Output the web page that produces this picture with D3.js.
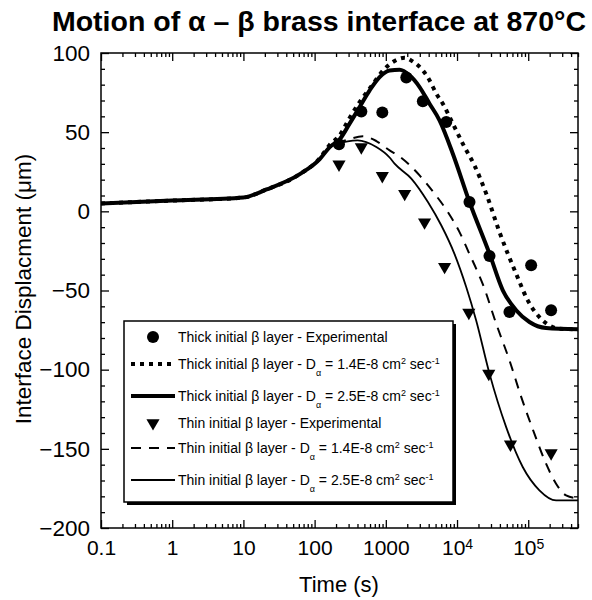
<!DOCTYPE html>
<html>
<head>
<meta charset="utf-8">
<script src="https://cdn.jsdelivr.net/npm/d3@7"></script>
<style>
  body { margin: 0; background: #fff; }
  svg text { font-family: "Liberation Sans", Arial, sans-serif; fill: #000; }
</style>
</head>
<body>
<div id="chart"></div>
<script>
// measured data (time in s, displacement in um)
var thickExpTime = [220, 453, 893, 1940, 3310, 7060, 14960, 28570, 54500, 109900, 209600];
var thickExpDisp = [42.3, 63, 62.5, 84.5, 69.5, 56.4, 5.9, -28.2, -63.6, -34.1, -62.5];
var thinExpTime = [220, 453, 893, 1840, 3500, 6690, 14650, 27900, 56300, 209600];
var thinExpDisp = [29.7, 40.6, 22.4, 11.1, -6.9, -35, -64, -102.5, -147.2, -152.7];

// model curves
var thickSlowTime = [0.1, 1, 10, 21.1, 62, 118, 163, 225, 310, 429, 627, 962, 1327, 1836, 2455, 3313, 4110, 5105, 6320, 8730, 12740, 17590, 25700, 39450, 67600, 98400, 159600, 273500, 500000];
var thickSlowDisp = [5, 6.8, 8.7, 13.8, 23.5, 33.5, 42, 48, 59, 69, 79, 90, 95, 97, 94.3, 89, 82.8, 74.4, 68, 55.4, 40.6, 29, 11.2, -13.1, -39.4, -56.2, -68.9, -74.1, -74.5];
var thickFastTime = [0.1, 1, 10, 21.1, 62, 118, 163, 225, 310, 429, 593, 818, 1130, 1563, 2160, 2980, 4110, 5680, 8730, 14960, 28570, 43950, 67600, 104000, 178000, 500000];
var thickFastDisp = [5, 6.8, 8.7, 13.8, 23.5, 33, 40.6, 45.5, 55.4, 65.9, 76.4, 84.8, 89, 89.5, 85.9, 78.5, 68, 57.5, 36.4, 5.9, -26.7, -49.9, -62.5, -69.9, -73.7, -74.5];
var thinSlowTime = [0.1, 1, 10, 21.1, 62, 118, 163, 225, 294, 477, 736, 1130, 1479, 2980, 4830, 7430, 10840, 14960, 19580, 23000, 35500, 54500, 79400, 122000, 178000, 246000, 340000, 500000];
var thinSlowDisp = [5, 6.8, 8.7, 13.8, 23.5, 33, 40.6, 43.5, 45.3, 47.4, 44.4, 38.5, 35.4, 22.7, 11.2, -0.4, -13.1, -27, -38.5, -46, -71, -94.1, -117, -140.4, -159.4, -172, -179.4, -181.3];
var thinFastTime = [0.1, 1, 10, 21.1, 62, 118, 163, 225, 291, 402, 736, 1130, 1327, 2280, 3900, 6000, 9230, 13460, 18580, 28570, 49000, 83700, 143500, 246000, 500000];
var thinFastDisp = [5, 6.8, 8.7, 13.8, 23.5, 33, 40.6, 43, 44.2, 44.8, 40.6, 34, 30.1, 20.7, 5.9, -8.8, -27, -47.8, -68.9, -102.5, -136.3, -161.5, -176.2, -182.6, -182.6];

var xMajor = [0.1, 1, 10, 100, 1000, 10000, 100000];
var xMajorLabels = ["0.1", "1", "10", "100", "1000", "10^4", "10^5"];
var yMajor = [-200, -150, -100, -50, 0, 50, 100];

var width = 592, height = 600;
var margin = { top: 53, right: 14, bottom: 72, left: 101 };

var svg = d3.select("#chart").append("svg")
    .attr("width", width)
    .attr("height", height);

var x = d3.scaleLog()
    .domain([0.1, 5e5])
    .range([margin.left, width - margin.right]);
var y = d3.scaleLinear()
    .domain([-200, 100])
    .range([height - margin.bottom, margin.top]);

// minor ticks
var xMinor = [];
xMajor.forEach(function(d) {
  for (var k = 2; k <= 9; k++) {
    if (d * k <= 5e5) xMinor.push(d * k);
  }
});
var yMinor = d3.range(-200, 101, 10).filter(function(d) { return d % 50 != 0; });

var x0 = margin.left, x1 = width - margin.right;
var y0 = height - margin.bottom, y1 = margin.top;

function styleAxis(g) {
  g.select(".domain").remove();
  g.selectAll("line").attr("stroke", "#000").attr("stroke-width", 1.3);
}

// bottom axis with labels
var gx = svg.append("g")
    .attr("transform", "translate(0," + y0 + ")")
    .call(d3.axisBottom(x).tickValues(xMajor).tickSizeInner(-8).tickSizeOuter(0).tickPadding(12)
      .tickFormat(function(d, i) { return xMajorLabels[i]; }))
    .call(styleAxis);
gx.selectAll("text")
    .attr("font-size", 21)
    .each(function() {
      var t = d3.select(this), s = t.text();
      if (s.indexOf("^") > 0) {
        var parts = s.split("^");
        t.text(parts[0]);
        t.append("tspan").attr("dy", "-0.45em").attr("font-size", 14).text(parts[1]);
      }
    });
svg.append("g")
    .attr("transform", "translate(0," + y0 + ")")
    .call(d3.axisBottom(x).tickValues(xMinor).tickSize(-4).tickFormat(""))
    .call(styleAxis);

// top axis
svg.append("g")
    .attr("transform", "translate(0," + y1 + ")")
    .call(d3.axisTop(x).tickValues(xMajor).tickSize(-8).tickFormat(""))
    .call(styleAxis);
svg.append("g")
    .attr("transform", "translate(0," + y1 + ")")
    .call(d3.axisTop(x).tickValues(xMinor).tickSize(-4).tickFormat(""))
    .call(styleAxis);

// left axis
var gy = svg.append("g")
    .attr("transform", "translate(" + x0 + ",0)")
    .call(d3.axisLeft(y).tickValues(yMajor).tickSizeInner(-8).tickSizeOuter(0).tickPadding(11)
      .tickFormat(d3.format("d")))
    .call(styleAxis);
gy.selectAll("text").attr("font-size", 22.5);
svg.append("g")
    .attr("transform", "translate(" + x0 + ",0)")
    .call(d3.axisLeft(y).tickValues(yMinor).tickSize(-4).tickFormat(""))
    .call(styleAxis);

// right axis
svg.append("g")
    .attr("transform", "translate(" + x1 + ",0)")
    .call(d3.axisRight(y).tickValues(yMajor).tickSize(-8).tickFormat(""))
    .call(styleAxis);
svg.append("g")
    .attr("transform", "translate(" + x1 + ",0)")
    .call(d3.axisRight(y).tickValues(yMinor).tickSize(-4).tickFormat(""))
    .call(styleAxis);

// frame
svg.append("rect")
    .attr("x", x0).attr("y", y1)
    .attr("width", x1 - x0).attr("height", y0 - y1)
    .attr("fill", "none").attr("stroke", "#000").attr("stroke-width", 1.5);

svg.append("clipPath").attr("id", "plotclip")
  .append("rect")
    .attr("x", x0).attr("y", y1)
    .attr("width", x1 - x0).attr("height", y0 - y1);

var line = d3.line()
    .x(function(d) { return x(d[0]); })
    .y(function(d) { return y(d[1]); })
    .curve(d3.curveMonotoneX);

var series = [
  { t: thickSlowTime, v: thickSlowDisp, w: 4, dash: "4,5" },
  { t: thickFastTime, v: thickFastDisp, w: 4, dash: null },
  { t: thinSlowTime, v: thinSlowDisp, w: 2, dash: "10,8" },
  { t: thinFastTime, v: thinFastDisp, w: 1.8, dash: null }
];

var plot = svg.append("g").attr("clip-path", "url(#plotclip)");

series.forEach(function(s) {
  plot.append("path")
      .datum(d3.zip(s.t, s.v))
      .attr("fill", "none")
      .attr("stroke", "#000")
      .attr("stroke-width", s.w)
      .attr("stroke-dasharray", s.dash)
      .attr("d", line);
});

plot.selectAll(".thickpt")
    .data(d3.zip(thickExpTime, thickExpDisp))
  .enter().append("circle")
    .attr("class", "thickpt")
    .attr("cx", function(d) { return x(d[0]); })
    .attr("cy", function(d) { return y(d[1]); })
    .attr("r", 6)
    .attr("fill", "#000");

var tri = d3.symbol().type(d3.symbolTriangle).size(75);
plot.selectAll(".thinpt")
    .data(d3.zip(thinExpTime, thinExpDisp))
  .enter().append("path")
    .attr("class", "thinpt")
    .attr("d", tri)
    .attr("transform", function(d) { return "translate(" + x(d[0]) + "," + y(d[1]) + ") rotate(180)"; })
    .attr("fill", "#000");

// legend
var lg = svg.append("g");
lg.append("rect")
    .attr("x", 127).attr("y", 324).attr("width", 329).attr("height", 181)
    .attr("fill", "#000");
lg.append("rect")
    .attr("x", 124).attr("y", 321).attr("width", 329).attr("height", 181)
    .attr("fill", "#fff").attr("stroke", "#000").attr("stroke-width", 1.5);

var legendRows = [
  { yy: 337, kind: "circle", lab: "Thick initial β layer - Experimental" },
  { yy: 364, kind: "line", w: 4, dash: "4,5", lab: "Thick initial β layer - D", val: "1.4E-8" },
  { yy: 396, kind: "line", w: 4, dash: null, lab: "Thick initial β layer - D", val: "2.5E-8" },
  { yy: 423, kind: "tri", lab: "Thin initial β layer - Experimental" },
  { yy: 448, kind: "line", w: 2, dash: "10,8", lab: "Thin initial β layer - D", val: "1.4E-8" },
  { yy: 480, kind: "line", w: 1.8, dash: null, lab: "Thin initial β layer - D", val: "2.5E-8" }
];

legendRows.forEach(function(r) {
  if (r.kind == "circle") {
    lg.append("circle").attr("cx", 153).attr("cy", r.yy).attr("r", 6).attr("fill", "#000");
  } else if (r.kind == "tri") {
    lg.append("path").attr("d", tri)
      .attr("transform", "translate(153," + r.yy + ") rotate(180)").attr("fill", "#000");
  } else {
    lg.append("line")
      .attr("x1", 131).attr("x2", 175).attr("y1", r.yy).attr("y2", r.yy)
      .attr("stroke", "#000").attr("stroke-width", r.w)
      .attr("stroke-dasharray", r.dash);
  }
  var t = lg.append("text")
      .attr("x", 178).attr("y", r.yy + 5)
      .attr("font-size", 14)
      .text(r.lab);
  if (r.val) {
    t.append("tspan").attr("dy", 7).attr("font-size", 9).text("α");
    t.append("tspan").attr("dy", -7).text(" = " + r.val + " cm");
    t.append("tspan").attr("dy", -5).attr("font-size", 9).text("2");
    t.append("tspan").attr("dy", 5).text(" sec");
    t.append("tspan").attr("dy", -5).attr("font-size", 9).text("-1");
  }
});

// titles
svg.append("text")
    .attr("x", 319).attr("y", 31)
    .attr("text-anchor", "middle")
    .attr("font-size", 28.5).attr("font-weight", "bold")
    .text("Motion of α – β brass interface at 870°C");

svg.append("text")
    .attr("transform", "translate(31," + 289 + ") rotate(-90)")
    .attr("text-anchor", "middle")
    .attr("font-size", 22.5)
    .text("Interface Displacment (μm)");

svg.append("text")
    .attr("x", 339).attr("y", 592)
    .attr("text-anchor", "middle")
    .attr("font-size", 22)
    .text("Time (s)");
</script>
</body>
</html>
